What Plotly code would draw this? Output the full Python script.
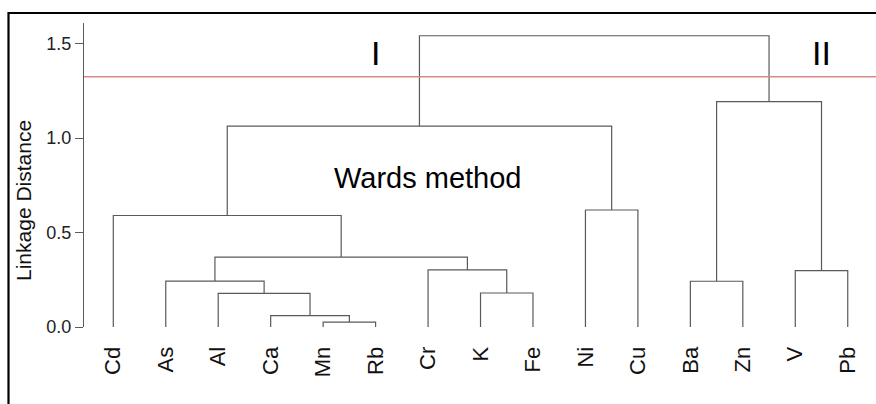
import plotly.graph_objects as go

# ---- data ----
leaf_labels = ["Cd", "As", "Al", "Ca", "Mn", "Rb", "Cr", "K", "Fe", "Ni", "Cu", "Ba", "Zn", "V", "Pb"]
# linkage: cluster ids 0..14 are leaves, merges create ids 15, 16, ...
merge_left = [4, 3, 2, 7, 11, 1, 13, 6, 20, 0, 9, 24, 19, 26]
merge_right = [5, 15, 16, 8, 12, 17, 14, 18, 22, 23, 10, 25, 21, 27]
merge_height = [0.026, 0.060, 0.178, 0.180, 0.242, 0.243, 0.298, 0.302, 0.370, 0.590, 0.619, 1.063, 1.192, 1.541]
cut_height = 1.324
y_ticks = [0.0, 0.5, 1.0, 1.5]
group_labels = ["I", "II"]
group_label_x = [5.0, 13.5]
group_label_y = [1.45, 1.45]

# ---- build dendrogram segments ----
n = len(leaf_labels)
pos = {i: float(i) for i in range(n)}
hgt = {i: 0.0 for i in range(n)}
xs, ys = [], []
for k, (a, b, h) in enumerate(zip(merge_left, merge_right, merge_height)):
    cid = n + k
    xa, xb = pos[a], pos[b]
    xs += [xa, xa, xb, xb, None]
    ys += [hgt[a], h, h, hgt[b], None]
    pos[cid] = (xa + xb) / 2
    hgt[cid] = h

W, H = 876, 404
ml, mt, mb = 84, 23, 77
unit_x = 52.46
unit_y = 189.0
x0 = (ml - 113.3) / unit_x
x1 = x0 + (W - ml) / unit_x
y1 = (H - mt - mb) / unit_y

fig = go.Figure()
fig.add_trace(go.Scatter(x=xs, y=ys, mode="lines",
                         line=dict(color="#5a5a5a", width=1.2),
                         hoverinfo="skip", showlegend=False))

font = "Liberation Sans, Arial, sans-serif"
fig.update_layout(
    width=W, height=H,
    margin=dict(l=ml, r=0, t=mt, b=mb, pad=0),
    plot_bgcolor="white", paper_bgcolor="white",
    font=dict(family=font, color="#111"),
    showlegend=False,
    xaxis=dict(range=[x0, x1], tickmode="array", tickvals=list(range(n)),
               ticktext=leaf_labels, tickangle=-90, showgrid=False, zeroline=False,
               showline=False, ticks="outside", ticklen=10, tickcolor="rgba(0,0,0,0)",
               tickfont=dict(size=22, family=font, color="#111")),
    yaxis=dict(range=[0, y1], tickmode="array", tickvals=y_ticks,
               ticktext=[f"{v:.1f}" for v in y_ticks],
               showgrid=False, zeroline=False, showline=True, linecolor="#5a5a5a",
               linewidth=1, ticks="outside", ticklen=8, tickcolor="#5a5a5a",
               tickfont=dict(size=18, family=font, color="#222")),
)

px = lambda p: (p - ml) / (W - ml)
py = lambda p: 1 - (p - mt) / (H - mt - mb)

# y-axis title
fig.add_annotation(xref="paper", yref="paper", x=px(23), y=py(201), text="Linkage Distance",
                   textangle=-90, showarrow=False, xanchor="center", yanchor="middle",
                   font=dict(size=21, family=font, color="#111"))

# cut line
fig.add_shape(type="line", xref="paper", yref="y", x0=0, x1=1,
              y0=cut_height, y1=cut_height, line=dict(color="#d98a86", width=1.5))

# outer frame (top and left edges)
fig.add_shape(type="line", xref="paper", yref="paper", x0=px(8), x1=px(880),
              y0=py(13), y1=py(13), line=dict(color="black", width=2.2))
fig.add_shape(type="line", xref="paper", yref="paper", x0=px(8.5), x1=px(8.5),
              y0=py(12), y1=py(410), line=dict(color="black", width=2.2))

for t, gx, gy in zip(group_labels, group_label_x, group_label_y):
    fig.add_annotation(x=gx, y=gy, text=t, showarrow=False,
                       font=dict(size=34, family=font, color="black"))

fig.add_annotation(x=6.0, y=0.79, text="Wards method", showarrow=False,
                   font=dict(size=29, family=font, color="black"))

fig.write_html("out.html")
